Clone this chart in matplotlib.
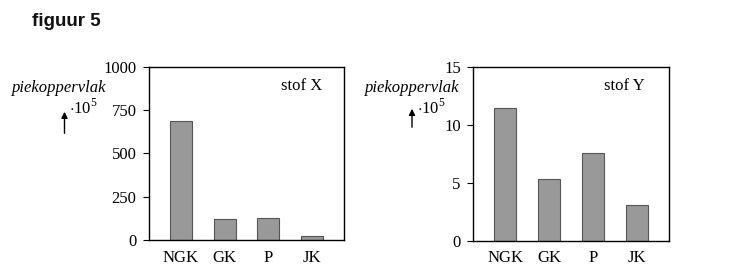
import matplotlib
matplotlib.use("Agg")
import matplotlib.pyplot as plt

categories = ["NGK", "GK", "P", "JK"]
stof_x = [688, 121, 127, 23]
stof_y = [11.4, 5.3, 7.6, 3.1]
yticks_x = [0, 250, 500, 750, 1000]
yticks_y = [0, 5, 10, 15]

plt.rcParams["mathtext.fontset"] = "custom"
plt.rcParams["mathtext.rm"] = "Liberation Serif"

W, H = 731, 274
fig = plt.figure(figsize=(W / 100, H / 100), dpi=100)
fig.patch.set_facecolor("white")

def fx(x):
    return x / W

def fy(y):
    return 1 - y / H

serif = ["Liberation Serif", "DejaVu Serif"]
FS = 12

def make_axes(left, right, top, bottom, values, ymax, yticks, label, lx):
    ax = fig.add_axes([fx(left), fy(bottom), (right - left) / W, (bottom - top) / H])
    xs = range(len(categories))
    ax.bar(xs, values, width=0.5, color="#999999", edgecolor="#555555", linewidth=0.8)
    ax.set_xlim(-0.73, 3.73)
    ax.set_ylim(0, ymax)
    ax.set_yticks(yticks)
    ax.set_yticklabels([str(t) for t in yticks], fontfamily=serif, fontsize=FS)
    ax.set_xticks(list(xs))
    ax.set_xticklabels(categories, fontfamily=serif, fontsize=FS)
    ax.tick_params(axis="x", length=0, pad=7)
    ax.tick_params(axis="y", length=4, width=0.8, direction="out", pad=5)
    for s in ax.spines.values():
        s.set_linewidth(1.0)
        s.set_color("black")
    ax.text(lx, 0.89, label, transform=ax.transAxes, ha="right", va="center",
            fontfamily=serif, fontsize=FS)
    return ax

make_axes(149, 344, 66.7, 240, stof_x, 1000, yticks_x, "stof X", 0.887)
make_axes(473.3, 669.3, 66.7, 240.7, stof_y, 15, yticks_y, "stof Y", 0.876)

fig.text(fx(32), fy(22), "figuur 5", fontfamily=["Liberation Sans", "DejaVu Sans"],
         fontweight="bold", fontsize=13.5, ha="left", va="center", color="#111111")

def ylabel(xl, yl, xa, ya0, ya1, xt, yt):
    fig.text(fx(xl), fy(yl), "piekoppervlak", fontfamily=serif, style="italic",
             fontsize=FS, ha="left", va="baseline")
    fig.text(fx(xt), fy(yt), r"$\cdot$10$^{5}$", fontfamily=serif, fontsize=FS,
             ha="left", va="baseline")
    fig.add_artist(matplotlib.patches.FancyArrowPatch(
        (fx(xa), fy(ya0)), (fx(xa), fy(ya1)), transform=fig.transFigure,
        arrowstyle="-|>", mutation_scale=9, color="black", linewidth=1.0))

ylabel(12, 92.5, 64.5, 136, 109, 69, 113.5)
ylabel(365, 92, 412, 130, 106, 417, 114)

fig.savefig("out.png", dpi=100, facecolor="white")
